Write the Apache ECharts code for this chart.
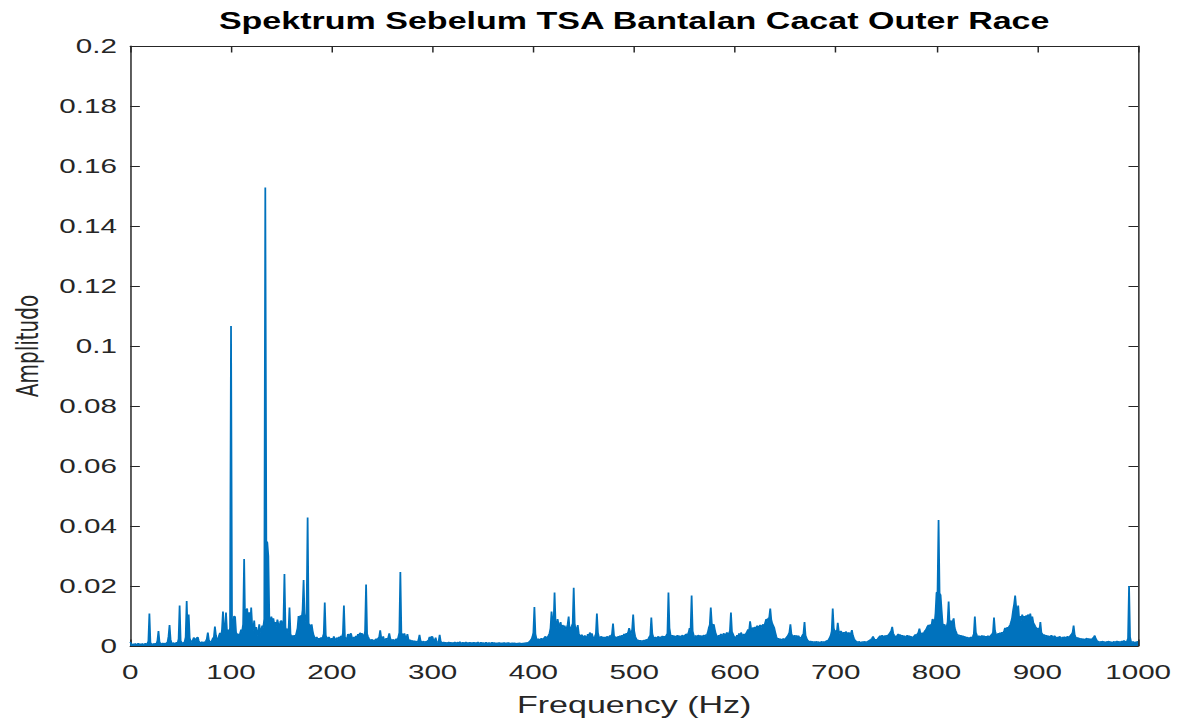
<!DOCTYPE html>
<html>
<head>
<meta charset="utf-8">
<title>Spektrum Sebelum TSA Bantalan Cacat Outer Race</title>
<script src="https://cdn.jsdelivr.net/npm/echarts@6/dist/echarts.min.js"></script>
<style>
  html, body { margin: 0; padding: 0; background: #ffffff; overflow: hidden; }
  /* the figure is laid out on a narrower canvas and widened horizontally */
  #chart { width: 798px; height: 721px; transform: scaleX(1.48); transform-origin: 0 0; }
</style>
</head>
<body>
<div id="chart"></div>
<script>
// Amplitude spectrum, one value per 1 Hz bin, 0 .. 1000 Hz
const freqStartHz = 0;
const freqStepHz = 1;

const amp000 = [
  0.0014, 0.0006, 0.0004, 0.0007, 0.0005, 0.0008, 0.0004, 0.0006, 0.0009, 0.0005,
  0.0007, 0.0004, 0.0008, 0.0006, 0.0005, 0.0009, 0.0006, 0.0008, 0.0016, 0.0108,
  0.0012, 0.0007, 0.0005, 0.0008, 0.0006, 0.0009, 0.0007, 0.0018, 0.0050, 0.0014,
  0.0008, 0.0006, 0.0010, 0.0007, 0.0009, 0.0006, 0.0011, 0.0012, 0.0032, 0.0070,
  0.0022, 0.0010, 0.0008, 0.0011, 0.0007, 0.0009, 0.0012, 0.0010, 0.0024, 0.0135,
  0.0018, 0.0012, 0.0009, 0.0011, 0.0014, 0.0030, 0.0150, 0.0044, 0.0105, 0.0026,
  0.0016, 0.0012, 0.0019, 0.0028, 0.0024, 0.0018, 0.0027, 0.0030, 0.0017, 0.0012,
  0.0010, 0.0014, 0.0011, 0.0013, 0.0012, 0.0016, 0.0024, 0.0045, 0.0020, 0.0014,
  0.0012, 0.0018, 0.0026, 0.0030, 0.0065, 0.0036, 0.0022, 0.0019, 0.0034, 0.0044,
  0.0030, 0.0052, 0.0115, 0.0060, 0.0042, 0.0112, 0.0048, 0.0055, 0.0038, 0.0060
];
const amp100 = [
  0.1067, 0.0050, 0.0062, 0.0100, 0.0097, 0.0045, 0.0038, 0.0040, 0.0030, 0.0042,
  0.0055, 0.0048, 0.0072, 0.0290, 0.0065, 0.0120, 0.0125, 0.0080, 0.0112, 0.0070,
  0.0128, 0.0068, 0.0052, 0.0085, 0.0040, 0.0063, 0.0035, 0.0048, 0.0072, 0.0045,
  0.0055, 0.0068, 0.0062, 0.0090, 0.1528, 0.0350, 0.0345, 0.0300, 0.0090, 0.0078,
  0.0098, 0.0085, 0.0092, 0.0070, 0.0080, 0.0065, 0.0088, 0.0072, 0.0060, 0.0082,
  0.0085, 0.0068, 0.0075, 0.0240, 0.0062, 0.0050, 0.0058, 0.0045, 0.0128, 0.0040,
  0.0030, 0.0035, 0.0028, 0.0036, 0.0032, 0.0045, 0.0060, 0.0100, 0.0078, 0.0102,
  0.0090, 0.0120, 0.0220, 0.0095, 0.0082, 0.0110, 0.0428, 0.0075, 0.0070, 0.0060,
  0.0072, 0.0050, 0.0035, 0.0028, 0.0025, 0.0030, 0.0022, 0.0026, 0.0020, 0.0028,
  0.0024, 0.0030, 0.0040, 0.0145, 0.0035, 0.0028, 0.0022, 0.0030, 0.0025, 0.0020
];
const amp200 = [
  0.0026, 0.0020, 0.0032, 0.0024, 0.0018, 0.0028, 0.0022, 0.0030, 0.0025, 0.0034,
  0.0028, 0.0042, 0.0135, 0.0030, 0.0026, 0.0022, 0.0040, 0.0032, 0.0038, 0.0042,
  0.0028, 0.0022, 0.0030, 0.0025, 0.0034, 0.0029, 0.0040, 0.0036, 0.0044, 0.0038,
  0.0042, 0.0035, 0.0028, 0.0050, 0.0205, 0.0040, 0.0030, 0.0024, 0.0020, 0.0018,
  0.0022, 0.0016, 0.0020, 0.0018, 0.0024, 0.0019, 0.0026, 0.0030, 0.0052, 0.0028,
  0.0024, 0.0032, 0.0020, 0.0018, 0.0026, 0.0022, 0.0028, 0.0042, 0.0025, 0.0020,
  0.0018, 0.0022, 0.0016, 0.0020, 0.0024, 0.0019, 0.0030, 0.0045, 0.0247, 0.0042,
  0.0040, 0.0036, 0.0042, 0.0030, 0.0026, 0.0040, 0.0022, 0.0018, 0.0020, 0.0016,
  0.0018, 0.0014, 0.0017, 0.0013, 0.0016, 0.0012, 0.0020, 0.0037, 0.0018, 0.0014,
  0.0013, 0.0016, 0.0012, 0.0015, 0.0013, 0.0017, 0.0020, 0.0030, 0.0026, 0.0032
];
const amp300 = [
  0.0030, 0.0016, 0.0018, 0.0028, 0.0014, 0.0012, 0.0015, 0.0037, 0.0016, 0.0012,
  0.0011, 0.0013, 0.0010, 0.0012, 0.0009, 0.0011, 0.0013, 0.0010, 0.0012, 0.0009,
  0.0011, 0.0010, 0.0013, 0.0009, 0.0011, 0.0012, 0.0010, 0.0014, 0.0011, 0.0009,
  0.0012, 0.0010, 0.0011, 0.0013, 0.0009, 0.0011, 0.0010, 0.0012, 0.0009, 0.0011,
  0.0010, 0.0012, 0.0009, 0.0011, 0.0010, 0.0013, 0.0009, 0.0010, 0.0012, 0.0009,
  0.0011, 0.0009, 0.0010, 0.0012, 0.0008, 0.0010, 0.0011, 0.0009, 0.0010, 0.0012,
  0.0009, 0.0011, 0.0010, 0.0008, 0.0010, 0.0009, 0.0011, 0.0010, 0.0008, 0.0010,
  0.0009, 0.0011, 0.0008, 0.0010, 0.0009, 0.0011, 0.0010, 0.0008, 0.0009, 0.0010,
  0.0008, 0.0010, 0.0009, 0.0007, 0.0009, 0.0008, 0.0010, 0.0009, 0.0007, 0.0009,
  0.0008, 0.0010, 0.0009, 0.0011, 0.0010, 0.0012, 0.0014, 0.0018, 0.0022, 0.0030
];
const amp400 = [
  0.0045, 0.0130, 0.0040, 0.0025, 0.0020, 0.0024, 0.0018, 0.0022, 0.0026, 0.0020,
  0.0024, 0.0028, 0.0032, 0.0026, 0.0030, 0.0035, 0.0042, 0.0060, 0.0115, 0.0080,
  0.0070, 0.0178, 0.0075, 0.0062, 0.0090, 0.0072, 0.0065, 0.0080, 0.0058, 0.0070,
  0.0062, 0.0068, 0.0055, 0.0060, 0.0072, 0.0098, 0.0050, 0.0060, 0.0066, 0.0075,
  0.0194, 0.0072, 0.0058, 0.0050, 0.0070, 0.0042, 0.0035, 0.0030, 0.0038, 0.0032,
  0.0028, 0.0035, 0.0030, 0.0026, 0.0040, 0.0032, 0.0045, 0.0036, 0.0042, 0.0030,
  0.0026, 0.0032, 0.0040, 0.0108, 0.0045, 0.0030, 0.0026, 0.0032, 0.0028, 0.0030,
  0.0025, 0.0030, 0.0027, 0.0032, 0.0028, 0.0030, 0.0035, 0.0032, 0.0040, 0.0075,
  0.0035, 0.0028, 0.0030, 0.0026, 0.0032, 0.0028, 0.0034, 0.0030, 0.0036, 0.0032,
  0.0040, 0.0034, 0.0042, 0.0038, 0.0045, 0.0060, 0.0048, 0.0042, 0.0055, 0.0105
];
const amp500 = [
  0.0050, 0.0032, 0.0024, 0.0018, 0.0020, 0.0016, 0.0019, 0.0015, 0.0018, 0.0016,
  0.0020, 0.0017, 0.0022, 0.0019, 0.0024, 0.0030, 0.0036, 0.0095, 0.0040, 0.0030,
  0.0026, 0.0030, 0.0024, 0.0028, 0.0032, 0.0026, 0.0030, 0.0028, 0.0033, 0.0029,
  0.0032, 0.0030, 0.0036, 0.0042, 0.0178, 0.0060, 0.0038, 0.0032, 0.0036, 0.0030,
  0.0034, 0.0028, 0.0032, 0.0036, 0.0030, 0.0034, 0.0029, 0.0033, 0.0036, 0.0030,
  0.0034, 0.0038, 0.0040, 0.0036, 0.0045, 0.0060, 0.0055, 0.0168, 0.0050, 0.0036,
  0.0032, 0.0035, 0.0030, 0.0034, 0.0036, 0.0031, 0.0035, 0.0030, 0.0033, 0.0036,
  0.0032, 0.0038, 0.0035, 0.0045, 0.0060, 0.0070, 0.0128, 0.0075, 0.0068, 0.0072,
  0.0055, 0.0040, 0.0034, 0.0030, 0.0036, 0.0032, 0.0040, 0.0035, 0.0038, 0.0042,
  0.0036, 0.0040, 0.0045, 0.0038, 0.0042, 0.0050, 0.0112, 0.0048, 0.0040, 0.0032
];
const amp600 = [
  0.0030, 0.0024, 0.0036, 0.0028, 0.0042, 0.0030, 0.0045, 0.0038, 0.0032, 0.0040,
  0.0036, 0.0042, 0.0048, 0.0055, 0.0050, 0.0082, 0.0058, 0.0050, 0.0062, 0.0056,
  0.0064, 0.0058, 0.0068, 0.0060, 0.0065, 0.0070, 0.0062, 0.0068, 0.0072, 0.0066,
  0.0078, 0.0090, 0.0082, 0.0092, 0.0095, 0.0125, 0.0088, 0.0075, 0.0068, 0.0060,
  0.0045, 0.0032, 0.0022, 0.0026, 0.0020, 0.0024, 0.0019, 0.0022, 0.0025, 0.0020,
  0.0024, 0.0028, 0.0032, 0.0038, 0.0045, 0.0072, 0.0040, 0.0034, 0.0030, 0.0036,
  0.0032, 0.0035, 0.0030, 0.0034, 0.0028, 0.0025, 0.0030, 0.0036, 0.0042, 0.0080,
  0.0035, 0.0026, 0.0020, 0.0016, 0.0014, 0.0016, 0.0013, 0.0015, 0.0012, 0.0014,
  0.0013, 0.0015, 0.0012, 0.0014, 0.0011, 0.0013, 0.0015, 0.0012, 0.0014, 0.0013,
  0.0015, 0.0018, 0.0016, 0.0022, 0.0028, 0.0035, 0.0050, 0.0125, 0.0060, 0.0048
];
const amp700 = [
  0.0052, 0.0045, 0.0077, 0.0048, 0.0042, 0.0050, 0.0045, 0.0040, 0.0046, 0.0042,
  0.0048, 0.0044, 0.0040, 0.0045, 0.0038, 0.0042, 0.0053, 0.0035, 0.0026, 0.0020,
  0.0016, 0.0014, 0.0012, 0.0015, 0.0013, 0.0011, 0.0014, 0.0012, 0.0015, 0.0013,
  0.0014, 0.0012, 0.0016, 0.0018, 0.0020, 0.0022, 0.0026, 0.0032, 0.0024, 0.0020,
  0.0022, 0.0019, 0.0026, 0.0030, 0.0034, 0.0028, 0.0036, 0.0032, 0.0030, 0.0035,
  0.0032, 0.0036, 0.0034, 0.0040, 0.0045, 0.0050, 0.0064, 0.0042, 0.0036, 0.0032,
  0.0030, 0.0035, 0.0040, 0.0034, 0.0038, 0.0032, 0.0036, 0.0030, 0.0034, 0.0029,
  0.0032, 0.0036, 0.0030, 0.0034, 0.0028, 0.0032, 0.0026, 0.0030, 0.0034, 0.0038,
  0.0035, 0.0040, 0.0045, 0.0058, 0.0042, 0.0038, 0.0044, 0.0040, 0.0048, 0.0052,
  0.0058, 0.0065, 0.0070, 0.0062, 0.0072, 0.0068, 0.0090, 0.0085, 0.0075, 0.0110
];
const amp800 = [
  0.0178, 0.0180, 0.0420, 0.0176, 0.0170, 0.0120, 0.0075, 0.0068, 0.0072, 0.0060,
  0.0065, 0.0080, 0.0148, 0.0070, 0.0085, 0.0078, 0.0082, 0.0092, 0.0060, 0.0050,
  0.0042, 0.0035, 0.0038, 0.0032, 0.0036, 0.0030, 0.0034, 0.0028, 0.0032, 0.0026,
  0.0030, 0.0025, 0.0028, 0.0024, 0.0030, 0.0026, 0.0032, 0.0040, 0.0098, 0.0045,
  0.0036, 0.0030, 0.0034, 0.0028, 0.0032, 0.0035, 0.0030, 0.0034, 0.0028, 0.0032,
  0.0030, 0.0034, 0.0028, 0.0032, 0.0036, 0.0040, 0.0045, 0.0095, 0.0050, 0.0040,
  0.0036, 0.0042, 0.0038, 0.0044, 0.0040, 0.0046, 0.0042, 0.0050, 0.0060, 0.0055,
  0.0062, 0.0058, 0.0065, 0.0070, 0.0080, 0.0095, 0.0120, 0.0140, 0.0168, 0.0130,
  0.0110, 0.0135, 0.0090, 0.0100, 0.0085, 0.0105, 0.0092, 0.0100, 0.0088, 0.0102,
  0.0095, 0.0105, 0.0090, 0.0108, 0.0085, 0.0098, 0.0078, 0.0072, 0.0065, 0.0060
];
const amp900 = [
  0.0055, 0.0060, 0.0050, 0.0080, 0.0045, 0.0040, 0.0034, 0.0038, 0.0032, 0.0036,
  0.0030, 0.0034, 0.0028, 0.0032, 0.0036, 0.0030, 0.0028, 0.0034, 0.0030, 0.0026,
  0.0030, 0.0027, 0.0032, 0.0028, 0.0025, 0.0030, 0.0027, 0.0031, 0.0026, 0.0029,
  0.0032, 0.0028, 0.0030, 0.0036, 0.0040, 0.0045, 0.0068, 0.0038, 0.0030, 0.0026,
  0.0028, 0.0024, 0.0026, 0.0022, 0.0025, 0.0021, 0.0024, 0.0020, 0.0023, 0.0026,
  0.0022, 0.0025, 0.0020, 0.0024, 0.0021, 0.0026, 0.0030, 0.0035, 0.0024, 0.0019,
  0.0016, 0.0014, 0.0012, 0.0015, 0.0013, 0.0016, 0.0012, 0.0014, 0.0011, 0.0015,
  0.0013, 0.0016, 0.0012, 0.0014, 0.0011, 0.0013, 0.0015, 0.0012, 0.0014, 0.0016,
  0.0013, 0.0015, 0.0012, 0.0014, 0.0016, 0.0013, 0.0018, 0.0015, 0.0013, 0.0016,
  0.0025, 0.0200, 0.0030, 0.0014, 0.0012, 0.0015, 0.0011, 0.0013, 0.0012, 0.0014,
  0.0015
];

// Axis ticks
const xTicks = [0, 100, 200, 300, 400, 500, 600, 700, 800, 900, 1000];
const yTicks = [0, 0.02, 0.04, 0.06, 0.08, 0.1, 0.12, 0.14, 0.16, 0.18, 0.2];

const titleText = 'Spektrum Sebelum TSA Bantalan Cacat Outer Race';
const xName = 'Frequency (Hz)';
const yName = 'Amplitudo';

const amplitude = [].concat(amp000, amp100, amp200, amp300, amp400,
                            amp500, amp600, amp700, amp800, amp900);
const spectrum = amplitude.map((a, i) => [freqStartHz + i * freqStepHz, a]);

const ink = '#262626';
const lineBlue = '#0072BD';
const tickFont = 'Liberation Sans, Arial, Helvetica, sans-serif';

const chart = echarts.init(document.getElementById('chart'), null, { renderer: 'svg' });

// plain numbers, no thousands separator
const xTickLabel = (v) => String(Math.round(v));
const yTickLabel = (v) => String(+v.toFixed(2));

const boxAxisCommon = {
  type: 'value',
  axisLine: { show: true, onZero: false, lineStyle: { color: ink, width: 1 } },
  axisTick: { show: true, inside: true, length: 6.5, lineStyle: { color: ink, width: 1 } },
  splitLine: { show: false }
};

chart.setOption({
  animation: false,
  backgroundColor: '#ffffff',
  title: {
    text: titleText,
    left: 428.5,
    top: 10,
    padding: 0,
    textAlign: 'center',
    textStyle: { fontFamily: tickFont, fontWeight: 'bold', fontSize: 23, color: '#000000' }
  },
  grid: { left: 88, top: 46, width: 681, height: 600, containLabel: false, outerBoundsMode: 'none' },
  xAxis: [
    Object.assign({}, boxAxisCommon, {
      position: 'bottom',
      min: xTicks[0], max: xTicks[xTicks.length - 1], interval: xTicks[1] - xTicks[0],
      name: xName, nameLocation: 'middle', nameGap: 48,
      nameTextStyle: { fontFamily: tickFont, fontSize: 23, color: ink },
      axisLabel: { show: true, margin: 16, fontFamily: tickFont, fontSize: 20, color: ink,
                   formatter: xTickLabel }
    }),
    Object.assign({}, boxAxisCommon, {
      position: 'top',
      min: xTicks[0], max: xTicks[xTicks.length - 1], interval: xTicks[1] - xTicks[0],
      axisLabel: { show: false }
    })
  ],
  yAxis: [
    Object.assign({}, boxAxisCommon, {
      position: 'left',
      min: yTicks[0], max: yTicks[yTicks.length - 1], interval: yTicks[1] - yTicks[0],
      name: yName, nameLocation: 'middle', nameGap: 56, nameRotate: 90,
      nameTextStyle: { fontFamily: 'DejaVu Sans, sans-serif', fontSize: 20, color: ink },
      axisLabel: { show: true, margin: 9, fontFamily: tickFont, fontSize: 20, color: ink,
                   formatter: yTickLabel }
    }),
    Object.assign({}, boxAxisCommon, {
      position: 'right',
      min: yTicks[0], max: yTicks[yTicks.length - 1], interval: yTicks[1] - yTicks[0],
      axisLabel: { show: false }
    })
  ],
  series: [{
    type: 'line',
    xAxisIndex: 0,
    yAxisIndex: 0,
    data: spectrum,
    showSymbol: false,
    symbol: 'none',
    sampling: null,
    lineStyle: { color: lineBlue, width: 1.2 },
    areaStyle: { color: lineBlue, opacity: 1, origin: 'start' },
    z: 3
  }]
});
</script>
</body>
</html>
